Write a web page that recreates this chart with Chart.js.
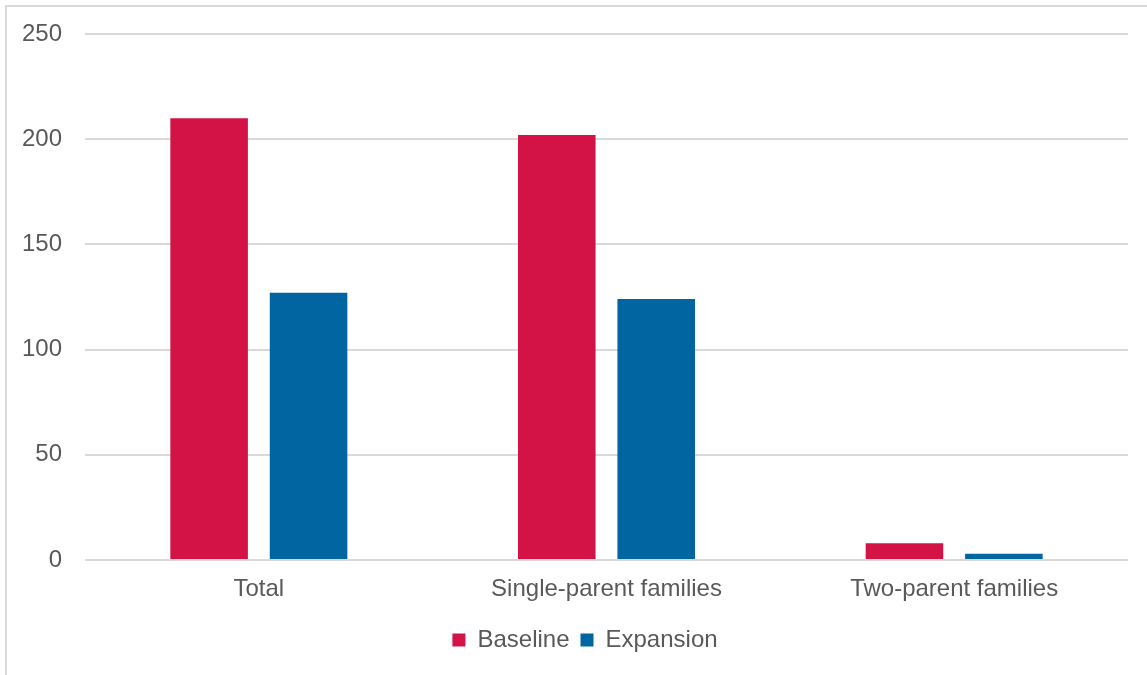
<!DOCTYPE html>
<html>
<head>
<meta charset="utf-8">
<script src="https://cdn.jsdelivr.net/npm/chart.js@4.4.1/dist/chart.umd.min.js"></script>
<style>
  html, body { margin: 0; padding: 0; background: #fff; overflow: hidden; }
  #wrap { position: relative; width: 1147px; height: 675px; }
  #frame {
    position: absolute; left: 5px; top: 5px; width: 1160px; height: 700px;
    border-left: 2px solid #d9d9d9; border-top: 2px solid #d9d9d9;
    pointer-events: none;
  }
  canvas { position: absolute; left: 0; top: 0; }
</style>
</head>
<body>
<div id="wrap">
  <canvas id="chart" width="1147" height="675"></canvas>
  <div id="frame"></div>
</div>
<script>
const categories = ['Total', 'Single-parent families', 'Two-parent families'];
const baseline = [210, 202, 8];
const expansion = [127, 124, 3];
const yTicks = [0, 50, 100, 150, 200, 250];

const FONT = "'Liberation Sans', Arial, sans-serif";
const TEXT = '#595959';

Chart.defaults.font.family = FONT;
Chart.defaults.font.size = 24;
Chart.defaults.color = TEXT;

// centre the legend under the whole frame rather than the padded box
const legendShift = {
  id: 'legendShift',
  afterLayout(chart) {
    const lg = chart.legend;
    if (!lg) return;
    const dx = 21;
    lg.left += dx;
    lg.right += dx;
    if (lg.legendHitBoxes) lg.legendHitBoxes.forEach(b => { b.left += dx; });
  }
};

const ctx = document.getElementById('chart').getContext('2d');

new Chart(ctx, {
  type: 'bar',
  data: {
    labels: categories,
    datasets: [
      { label: 'Baseline', data: baseline, backgroundColor: '#d31345' },
      { label: 'Expansion', data: expansion, backgroundColor: '#0065a1' }
    ]
  },
  options: {
    responsive: false,
    animation: false,
    categoryPercentage: 0.572,
    barPercentage: 0.78,
    layout: { padding: { top: 34, right: 19, bottom: 13, left: 0 } },
    plugins: {
      legend: {
        position: 'bottom',
        labels: { boxWidth: 13, boxHeight: 13, padding: 11, color: TEXT }
      },
      tooltip: { enabled: false }
    },
    scales: {
      x: {
        grid: { display: false, drawTicks: false },
        border: { display: false },
        ticks: { padding: 15, color: TEXT },
        afterFit: s => { s.height = 57; }
      },
      y: {
        min: 0,
        max: 250,
        afterBuildTicks: s => { s.ticks = yTicks.map(v => ({ value: v })); },
        grid: { color: '#d9d9d9', lineWidth: 2, drawTicks: false },
        border: { display: false },
        ticks: { padding: 23, color: TEXT },
        afterFit: s => { s.width = 85; s.paddingTop = 0; s.paddingBottom = 0; }
      }
    }
  },
  plugins: [legendShift]
});
</script>
</body>
</html>
